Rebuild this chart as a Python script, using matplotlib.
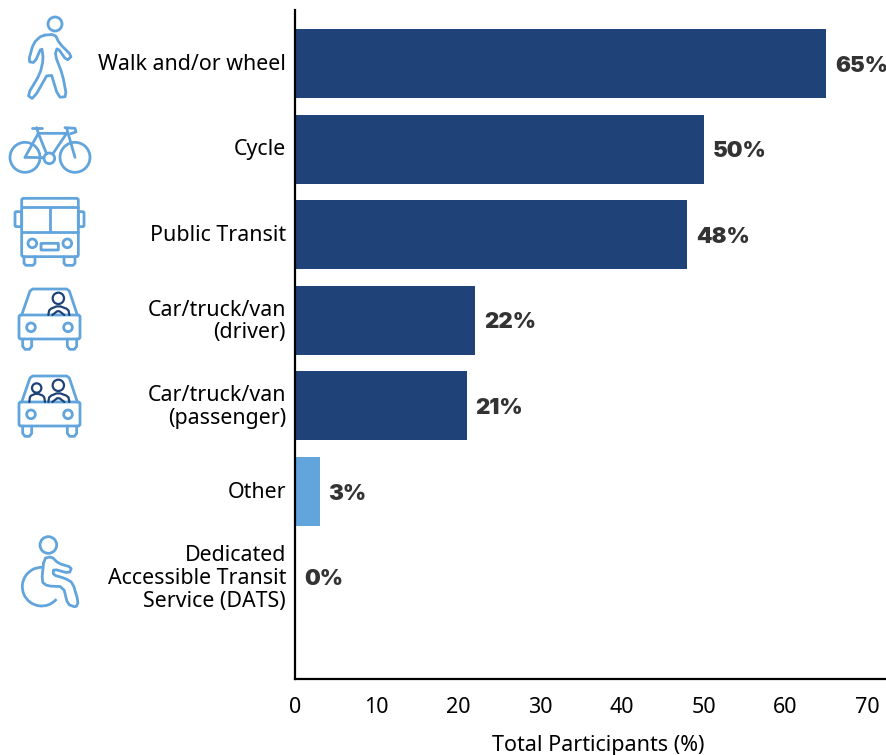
#!/usr/bin/env python3
"""Commute mode horizontal bars with hand-drawn pictograms down the left side."""

import matplotlib

matplotlib.use("Agg")
import matplotlib.pyplot as plt
from matplotlib.patches import Arc, Circle, FancyBboxPatch
from matplotlib.transforms import ScaledTranslation

categories = [
    "Walk and/or wheel",
    "Cycle",
    "Public Transit",
    "Car/truck/van\n(driver)",
    "Car/truck/van\n(passenger)",
    "Other",
    "Dedicated\nAccessible Transit\nService (DATS)",
]
values = [65, 50, 48, 22, 21, 3, 0]
bar_colors = ["#1F4379", "#1F4379", "#1F4379", "#1F4379", "#1F4379", "#62A4DC", "#1F4379"]
x_ticks = [0, 10, 20, 30, 40, 50, 60, 70]
x_label = "Total Participants (%)"

ICON = "#62A4DC"
DARK = "#1F4379"
W, H = 887, 755

plt.rcParams["font.family"] = ["Noto Sans", "DejaVu Sans"]


def soften(pts, closed=False, rounds=1):
    # corner cutting, the icons have round bends rather than sharp ones
    for _ in range(rounds):
        out = [] if closed else [pts[0]]
        n = len(pts)
        for i in range(n if closed else n - 1):
            a, b = pts[i], pts[(i + 1) % n]
            out.append((0.8 * a[0] + 0.2 * b[0], 0.8 * a[1] + 0.2 * b[1]))
            out.append((0.2 * a[0] + 0.8 * b[0], 0.2 * a[1] + 0.8 * b[1]))
        if not closed:
            out.append(pts[-1])
        pts = out
    return pts


def line(ov, pts, color=ICON, lw=2.0, closed=False, y0=0, smooth=False):
    if smooth:
        pts = soften(pts, closed)
    xs = [p[0] / 3 for p in pts]
    ys = [p[1] / 3 + y0 for p in pts]
    if closed:
        xs.append(xs[0])
        ys.append(ys[0])
    ov.plot(xs, ys, color=color, lw=lw, solid_capstyle="round", solid_joinstyle="round")


def circle(ov, x, y, r, color=ICON, lw=2.0, y0=0):
    ov.add_patch(Circle((x / 3, y / 3 + y0), r / 3, fill=False, ec=color, lw=lw))


def box(ov, x0, y0, x1, y1, rad=2.0, lw=2.0, yoff=0):
    ov.add_patch(
        FancyBboxPatch(
            (x0 / 3, y0 / 3 + yoff),
            (x1 - x0) / 3,
            (y1 - y0) / 3,
            boxstyle=f"round,pad=0,rounding_size={rad}",
            fill=False,
            ec=ICON,
            lw=lw,
        )
    )


def draw_walker(ov):
    circle(ov, 165, 72, 21)
    line(ov, [(125, 106), (165, 103), (178, 130), (216, 168), (200, 182), (172, 142),
              (165, 165), (188, 225), (200, 290), (175, 292), (150, 210), (100, 298),
              (82, 285), (120, 222), (130, 178), (125, 140), (104, 188), (85, 185),
              (100, 130)], closed=True, smooth=True)


def draw_bike(ov):
    circle(ov, 75, 472, 45)
    circle(ov, 225, 472, 45)
    circle(ov, 148, 475, 16)
    line(ov, [(75, 472), (115, 400), (140, 462)])
    line(ov, [(75, 472), (132, 473)])
    line(ov, [(115, 400), (200, 400), (158, 462)])
    line(ov, [(200, 385), (225, 472)])
    line(ov, [(110, 383), (115, 400)])
    line(ov, [(95, 383), (125, 383)])
    line(ov, [(195, 383), (225, 385), (228, 396), (212, 401)])


def draw_bus(ov):
    box(ov, 65, 595, 235, 770)
    line(ov, [(65, 620), (235, 620)])
    line(ov, [(150, 620), (150, 695)])
    line(ov, [(65, 695), (235, 695)])
    box(ov, 45, 635, 65, 680, rad=1.5)
    box(ov, 235, 635, 252, 680, rad=1.5)
    circle(ov, 97, 730, 13)
    circle(ov, 202, 730, 13)
    box(ov, 123, 730, 175, 750, rad=0.5)
    line(ov, [(72, 770), (72, 790), (78, 796), (99, 796), (105, 790), (105, 770)])
    line(ov, [(192, 770), (192, 790), (198, 796), (219, 796), (225, 790), (225, 770)])


def draw_car(ov, top, passenger=False):
    # top is the zoom-space y of the roof line, everything hangs off it
    yoff = 270
    box(ov, 57, top + 78, 240, top + 150, yoff=yoff)
    line(ov, [(65, top + 78), (90, top + 6), (98, top), (200, top), (208, top + 6),
              (232, top + 78)], y0=yoff)
    circle(ov, 93, top + 115, 13, y0=yoff)
    circle(ov, 204, top + 115, 13, y0=yoff)
    for x0, x1 in [(68, 95), (202, 230)]:
        line(ov, [(x0, top + 150), (x0, top + 172), (x0 + 7, top + 181), (x1 - 7, top + 181),
                  (x1, top + 172), (x1, top + 150)], y0=yoff)
    circle(ov, 175, top + 28, 17, color=DARK, lw=1.6, y0=yoff)
    line(ov, [(145, top + 78), (148, top + 61), (175, top + 50), (205, top + 61), (208, top + 78)],
         color=DARK, lw=1.6, y0=yoff, smooth=True)
    line(ov, [(157, top + 78), (175, top + 64), (193, top + 78)], color=DARK, lw=1.6, y0=yoff, smooth=True)
    if passenger:
        circle(ov, 110, top + 36, 14, color=DARK, lw=1.6, y0=yoff)
        line(ov, [(88, top + 78), (90, top + 60), (110, top + 52), (132, top + 60), (135, top + 78)],
             color=DARK, lw=1.6, y0=yoff, smooth=True)


def draw_wheelchair(ov):
    yoff = 270
    circle(ov, 145, 825, 25, y0=yoff)
    ov.add_patch(Arc((125 / 3, 950 / 3 + yoff), 116 / 3, 116 / 3, theta1=40, theta2=272, ec=ICON, lw=2.0))
    line(ov, [(132, 865), (125, 935), (142, 948), (190, 950), (203, 1003), (228, 1012),
              (235, 995), (218, 938), (195, 925), (160, 915), (160, 897), (208, 910),
              (215, 892), (175, 880), (155, 860)], closed=True, y0=yoff, smooth=True)


def main():
    fig = plt.figure(figsize=(W / 100, H / 100), dpi=100)
    ax = fig.add_axes([295 / W, 1 - 679 / H, (W - 295) / W, (679 - 10) / H])

    ypos = list(range(len(categories)))
    ax.barh(ypos, values, height=0.806, color=bar_colors)
    ax.set_xlim(0, 72.45)
    ax.set_ylim(7.19, -0.625)

    ax.spines["top"].set_visible(False)
    ax.spines["right"].set_visible(False)
    ax.spines["left"].set_linewidth(1.6)
    ax.spines["bottom"].set_linewidth(1.6)

    ax.set_xticks(x_ticks)
    ax.tick_params(axis="x", length=0, pad=13, labelsize=15.5)
    ax.set_yticks(ypos)
    ax.set_yticklabels(categories, fontsize=15.4, linespacing=1.1)
    ax.tick_params(axis="y", length=0, pad=6.5)
    nudge = ScaledTranslation(0, 2 / 100, fig.dpi_scale_trans)
    for lab in ax.get_yticklabels():
        lab.set_transform(lab.get_transform() + nudge)
    ax.set_xlabel(x_label, fontsize=15.5)
    ax.xaxis.set_label_coords((598 - 295) / (W - 295), -0.083)

    for y, v in zip(ypos, values):
        ax.annotate(f"{v}%", (v, y), xytext=(6.5, -1.5), textcoords="offset points", va="center", ha="left",
                    fontsize=16, fontweight="black", color="#333333", family=["Inter", "DejaVu Sans"],
                    annotation_clip=False)

    # pictograms sit in a pixel-space overlay so they can be placed against the labels
    ov = fig.add_axes([0, 0, 1, 1], facecolor="none")
    ov.set_xlim(0, W)
    ov.set_ylim(H, 0)
    ov.axis("off")
    draw_walker(ov)
    draw_bike(ov)
    draw_bus(ov)
    draw_car(ov, 57)
    draw_car(ov, 318, passenger=True)
    draw_wheelchair(ov)

    fig.savefig("out.png", dpi=100)
    plt.close(fig)


if __name__ == "__main__":
    main()
